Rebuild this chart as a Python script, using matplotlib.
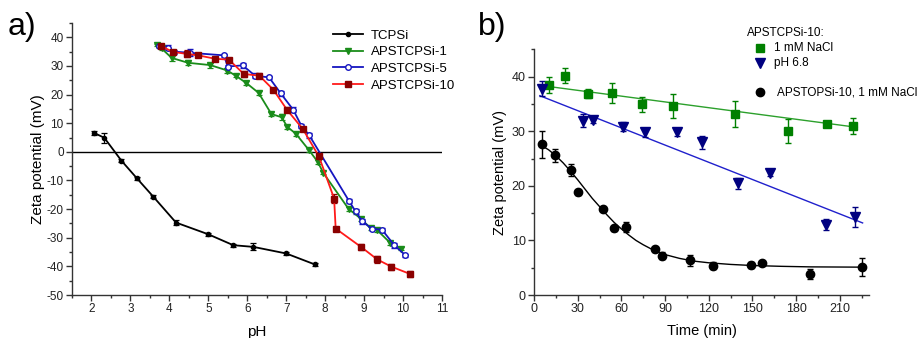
import matplotlib
matplotlib.use("Agg")
import matplotlib.pyplot as plt
from matplotlib.ticker import MultipleLocator
from matplotlib.lines import Line2D

plt.rcParams['font.family'] = ['Liberation Sans', 'DejaVu Sans']
plt.rcParams['axes.unicode_minus'] = False

# ---------------- Panel a data ----------------
tcpsi_ph = [2.07, 2.33, 2.77, 3.17, 3.59, 4.17, 5.0, 5.64, 6.16, 7.0, 7.73]
tcpsi_z = [6.6, 4.9, -3.1, -9.3, -15.7, -24.7, -28.8, -32.6, -33.2, -35.5, -39.3]
tcpsi_e = [0.6, 1.7, 0.5, 0.6, 0.5, 0.8, 0.5, 0.5, 1.2, 0.6, 0.5]

aps1_ph = [3.67, 3.8, 4.06, 4.48, 5.05, 5.49, 5.7, 5.98, 6.29, 6.62, 6.88, 7.03, 7.25,
           7.59, 7.81, 7.95, 8.6, 8.92, 9.17, 9.34, 9.67, 9.96]
aps1_z = [37.3, 36.1, 32.8, 31.1, 30.3, 28.4, 26.6, 24.0, 20.6, 13.2, 12.1, 8.7, 6.3,
          0.5, -3.5, -7.3, -19.9, -23.4, -26.7, -27.4, -31.8, -33.8]
aps1_e = [0.5, 0.5, 0.9, 0.9, 0.9, 0.9, 0.6, 0.8, 0.8, 0.6, 1.0, 0.8, 0.7,
          0.5, 0.7, 0.6, 0.6, 0.6, 0.6, 0.6, 0.6, 0.5]

aps5_ph = [3.73, 3.97, 4.12, 4.52, 5.4, 5.5, 5.88, 6.2, 6.56, 6.86, 7.18, 7.39, 7.59,
           8.61, 8.78, 8.95, 9.19, 9.46, 9.78, 10.06]
aps5_z = [37.0, 36.4, 35.0, 34.6, 33.7, 29.8, 30.2, 26.6, 26.0, 20.4, 14.7, 9.1, 5.8,
          -17.1, -20.8, -24.2, -26.8, -27.2, -32.7, -36.1]
aps5_e = [0.5, 0.8, 0.7, 1.3, 0.5, 0.5, 0.9, 0.9, 0.5, 0.9, 0.8, 0.6, 0.9,
          0.6, 0.8, 0.9, 0.5, 0.7, 0.8, 0.5]

aps10_ph = [3.78, 4.09, 4.45, 4.74, 5.18, 5.53, 5.91, 6.31, 6.67, 7.02, 7.43, 7.84,
            8.23, 8.27, 8.93, 9.34, 9.7, 10.17]
aps10_z = [37.0, 34.9, 34.2, 33.7, 32.5, 32.2, 27.2, 26.6, 21.7, 14.7, 7.9, -1.6,
           -16.3, -26.8, -33.3, -37.6, -40.1, -42.6]
aps10_e = [0.5, 0.6, 1.2, 0.4, 0.7, 0.7, 0.9, 0.9, 0.6, 0.9, 0.6, 0.7,
           1.6, 0.5, 1.0, 1.3, 1.0, 1.0]

# ---------------- Panel b data ----------------
nacl_t = [10.1, 21.0, 37.3, 53.3, 74.1, 95.2, 138.2, 174.3, 201.1, 219.2]
nacl_z = [38.5, 40.2, 36.9, 37.0, 34.9, 34.6, 33.2, 30.0, 31.3, 30.9]
nacl_e = [1.5, 1.4, 0.9, 1.9, 1.3, 2.2, 2.4, 2.2, 0.3, 1.5]
nacl_fit_t = [4.0, 222.0]
nacl_fit_z = [38.4, 30.7]

ph68_t = [5.3, 33.4, 40.3, 61.3, 76.2, 98.1, 115.3, 140.2, 162.2, 200.2, 220.3]
ph68_z = [37.8, 31.9, 32.0, 30.8, 29.8, 29.8, 28.0, 20.5, 22.4, 12.9, 14.3]
ph68_e = [1.4, 1.2, 0.5, 0.8, 0.8, 0.6, 1.2, 1.0, 0.6, 1.0, 1.8]
ph68_fit_t = [4.0, 225.6]
ph68_fit_z = [36.5, 13.2]

opsi_t = [5.3, 14.2, 25.4, 30.0, 47.1, 55.1, 63.1, 83.3, 88.1, 107.1, 123.1, 149.2,
          156.3, 189.2, 225.1]
opsi_z = [27.6, 25.6, 22.9, 18.8, 15.7, 12.2, 12.4, 8.35, 7.2, 6.4, 5.4, 5.5,
          5.8, 3.8, 5.1]
opsi_e = [2.5, 1.2, 1.1, 0.5, 0.3, 0.4, 0.9, 0.4, 0.6, 1.0, 0.7, 0.6, 0.3, 0.9, 1.6]
opsi_fit_t = [5, 10, 15, 20, 25, 30, 35, 40, 45, 50, 55, 60, 65, 70, 75, 80, 85, 90,
              100, 110, 120, 135, 150, 170, 190, 225]
opsi_fit_z = [27.4, 26.6, 25.5, 24.2, 22.7, 21.1, 19.4, 17.7, 16.2, 14.7, 13.3, 12.1,
              11.0, 10.0, 9.2, 8.5, 7.9, 7.4, 6.7, 6.2, 5.9, 5.6, 5.4, 5.25, 5.15, 5.1]

W, H = 923, 338
fig = plt.figure(figsize=(W / 100, H / 100), dpi=100)

GREEN = '#1a8c1a'
BLUE = '#1515c0'
RED = '#ff1a1a'
DRED = '#8b0000'

def style(ax, fs):
    for s in ['top', 'right']:
        ax.spines[s].set_visible(False)
    for s in ['left', 'bottom']:
        ax.spines[s].set_linewidth(1.0)
        ax.spines[s].set_color('#333333')
    ax.tick_params(which='major', direction='out', length=4, width=1, labelsize=fs,
                   color='#333333', labelcolor='#222222', pad=2)
    ax.tick_params(which='minor', direction='out', length=2.5, width=1, color='#333333')

# ---- Panel a ----
axa = fig.add_axes([72 / W, 1 - 295 / H, (442 - 72) / W, (295 - 23) / H])
style(axa, 8.5)
axa.axhline(0, color='black', lw=1.0, zorder=1)
eb = dict(capsize=2, elinewidth=0.9, capthick=0.9, lw=1.3)
axa.errorbar(tcpsi_ph, tcpsi_z, yerr=tcpsi_e, color='black', marker='o', ms=3,
             label='TCPSi', **eb)
axa.errorbar(aps1_ph, aps1_z, yerr=aps1_e, color=GREEN, marker='v', ms=4.5,
             label='APSTCPSi-1', **eb)
axa.errorbar(aps5_ph, aps5_z, yerr=aps5_e, color=BLUE, marker='o', ms=4, mfc='white',
             mew=1.0, label='APSTCPSi-5', **eb)
axa.errorbar(aps10_ph, aps10_z, yerr=aps10_e, color=RED, ecolor=DRED, marker='s', ms=4,
             mfc=DRED, mec=DRED, label='APSTCPSi-10', **eb)
axa.set_xlim(1.5, 11)
axa.set_ylim(-50, 45)
axa.set_xticks(range(2, 12))
axa.xaxis.set_minor_locator(MultipleLocator(0.5))
axa.set_yticks(range(-50, 41, 10))
axa.yaxis.set_minor_locator(MultipleLocator(5))
axa.set_xlabel('pH', fontsize=11, labelpad=7)
axa.set_ylabel('Zeta potential (mV)', fontsize=11, labelpad=1)
handles_a = [
    Line2D([], [], color='black', marker='o', ms=3, lw=1.3),
    Line2D([], [], color=GREEN, marker='v', ms=4.5, lw=1.3),
    Line2D([], [], color=BLUE, marker='o', ms=4, mfc='white', lw=1.3),
    Line2D([], [], color=RED, marker='s', ms=4, mfc=DRED, mec=DRED, lw=1.3),
]
axa.legend(handles_a, ['TCPSi', 'APSTCPSi-1', 'APSTCPSi-5', 'APSTCPSi-10'],
           loc='upper left', bbox_to_anchor=(0.69, 0.995), frameon=False, fontsize=9.5,
           handlelength=2.3, handletextpad=0.6, labelspacing=0.33, borderaxespad=0)
fig.text(8 / W, 1 - 27 / H, 'a)', fontsize=23, va='center', ha='left')

# ---- Panel b ----
axb = fig.add_axes([534 / W, 1 - 295 / H, (869 - 534) / W, (295 - 49.3) / H])
style(axb, 9)
eb2 = dict(capsize=2.2, elinewidth=1.0, capthick=1.0, ls='none')
axb.plot(nacl_fit_t, nacl_fit_z, color='#2ca02c', lw=1.0)
axb.plot(ph68_fit_t, ph68_fit_z, color='#2020cc', lw=1.0)
axb.plot(opsi_fit_t, opsi_fit_z, color='black', lw=1.0)
axb.errorbar(nacl_t, nacl_z, yerr=nacl_e, color='#008000', marker='s', ms=5.5, **eb2)
axb.errorbar(ph68_t, ph68_z, yerr=ph68_e, color='#000080', marker='v', ms=6.5, **eb2)
axb.errorbar(opsi_t, opsi_z, yerr=opsi_e, color='black', marker='o', ms=6, **eb2)
axb.set_xlim(0, 230)
axb.set_ylim(0, 45)
axb.set_xticks(range(0, 211, 30))
axb.xaxis.set_minor_locator(MultipleLocator(15))
axb.set_yticks(range(0, 41, 10))
axb.yaxis.set_minor_locator(MultipleLocator(5))
axb.set_xlabel('Time (min)', fontsize=10.5, labelpad=6)
axb.set_ylabel('Zeta potential (mV)', fontsize=10.5, labelpad=3)
fig.text(747 / W, 1 - 33 / H, 'APSTCPSi-10:', fontsize=8.5, va='center', ha='left')
fig.text(774 / W, 1 - 48 / H, '1 mM NaCl', fontsize=8.5, va='center', ha='left')
fig.text(774 / W, 1 - 63 / H, 'pH 6.8', fontsize=8.5, va='center', ha='left')
fig.text(777 / W, 1 - 92 / H, 'APSTOPSi-10, 1 mM NaCl', fontsize=8.5, va='center', ha='left')
fig.lines.append(Line2D([760 / W], [1 - 48 / H], transform=fig.transFigure,
                        marker='s', ms=5.5, color='#008000', ls='none'))
fig.lines.append(Line2D([760 / W], [1 - 63 / H], transform=fig.transFigure,
                        marker='v', ms=6.5, color='#000080', ls='none'))
fig.lines.append(Line2D([760 / W], [1 - 92 / H], transform=fig.transFigure,
                        marker='o', ms=6, color='black', ls='none'))
fig.text(478 / W, 1 - 27 / H, 'b)', fontsize=23, va='center', ha='left')

fig.savefig('out.png', dpi=100)
